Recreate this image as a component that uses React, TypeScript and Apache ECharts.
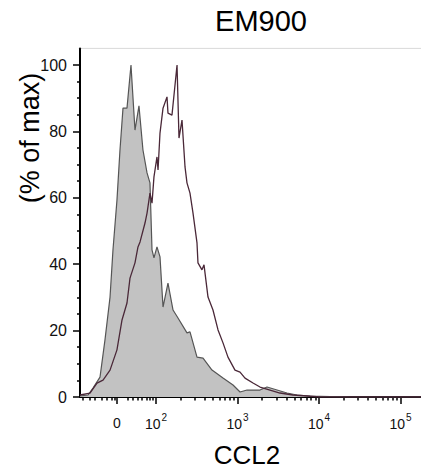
import React, { useEffect, useRef } from "react";
import * as echarts from "echarts";

// x positions are in display-decade units of the biexponential CCL2 axis (2 = 10^2, 3 = 10^3 ...)
const controlX = [1.0675, 1.166, 1.227, 1.313, 1.374, 1.436, 1.472, 1.521, 1.558, 1.595, 1.644, 1.693, 1.742, 1.791, 1.84, 1.89, 1.926, 1.951, 1.975, 2.012, 2.049, 2.086, 2.147, 2.209, 2.27, 2.38, 2.417, 2.503, 2.577, 2.687, 2.822, 2.945, 3.031, 3.117, 3.276, 3.362, 3.485, 3.607, 3.73, 3.89, 4.38, 5.509];
const controlY = [0.3, 0.6, 2.7, 6.0, 17.2, 30.1, 44.3, 59.3, 74.4, 87.0, 87.0, 100, 80.4, 87.7, 74.4, 67.5, 64.5, 44.3, 41.9, 45.2, 42.2, 27.1, 34.3, 26.2, 23.8, 19.3, 19.6, 12.0, 11.7, 8.1, 5.7, 3.6, 1.5, 2.1, 2.1, 3.0, 2.1, 1.2, 0.6, 0.3, 0, 0];

const em900X = [1.0675, 1.19, 1.276, 1.35, 1.436, 1.521, 1.583, 1.644, 1.681, 1.742, 1.779, 1.804, 1.865, 1.89, 1.926, 1.951, 1.975, 2.012, 2.025, 2.049, 2.086, 2.135, 2.147, 2.196, 2.258, 2.282, 2.319, 2.356, 2.38, 2.417, 2.454, 2.503, 2.515, 2.564, 2.589, 2.638, 2.699, 2.761, 2.822, 2.883, 2.969, 3.031, 3.092, 3.19, 3.276, 3.399, 3.521, 3.681, 3.853, 4.012, 5.509];
const em900Y = [0.6, 1.2, 4.2, 5.1, 8.1, 14.2, 23.2, 28.3, 35.8, 40.4, 45.2, 46.7, 52.4, 55.4, 61.4, 58.4, 66.3, 72.3, 68.4, 79.5, 87.0, 90.4, 85.5, 84.9, 100, 78.0, 83.4, 69.3, 64.5, 61.4, 55.4, 46.4, 40.4, 38.3, 39.8, 30.1, 26.2, 20.2, 16.3, 12.0, 8.1, 7.5, 5.7, 4.2, 3.0, 2.1, 1.2, 0.6, 0.3, 0, 0];

const xMajorTicks = [1.521, 2, 3, 4, 5];
const xMajorLabels = ["0", "10^2", "10^3", "10^4", "10^5"];
const xNearZeroTicks = [1.104, 1.19, 1.252, 1.337, 1.399, 1.46, 1.497, 1.656, 1.718, 1.779, 1.828, 1.89, 1.926, 1.963];
const decades = [2, 3, 4, 5];
const multipliers = [2, 3, 4, 5, 6, 7, 8, 9];
const yMajorTicks = [0, 20, 40, 60, 80, 100];
const yMinorTicks = [5, 10, 15, 25, 30, 35, 45, 50, 55, 65, 70, 75, 85, 90, 95];

const FONT = "'Liberation Sans', Arial, Helvetica, sans-serif";
const X_MIN = 1.0675;
const X_MAX = 5.509;

export default function App() {
  const ref = useRef<HTMLDivElement>(null);
  useEffect(() => {
    if (!ref.current) return;
    document.documentElement.style.overflow = "hidden";
    document.body.style.overflow = "hidden";
    const chart = echarts.init(ref.current, null, { renderer: "svg" });
    const xMinorTicks = xNearZeroTicks.concat(
      ...decades.map((d) => multipliers.map((m) => d + Math.log10(m)))
    );
    const control = controlX.map((x, i) => [x, controlY[i]]);
    const em900 = em900X.map((x, i) => [x, em900Y[i]]);
    const labelMap: Record<string, string> = {};
    xMajorTicks.forEach((v, i) => (labelMap[String(v)] = xMajorLabels[i]));

    chart.setOption({
      animation: false,
      grid: {
        left: 80,
        right: 0,
        top: 48.4,
        bottom: 79,
        show: true,
        borderColor: "#d9d9d9",
        borderWidth: 1,
        backgroundColor: "transparent",
      },
      xAxis: [
        {
          type: "value",
          min: X_MIN,
          max: X_MAX,
          splitLine: { show: false },
          axisLine: { show: true, onZero: false, lineStyle: { color: "#000", width: 2 } },
          axisTick: {
            show: true,
            customValues: xMajorTicks,
            length: 7,
            lineStyle: { color: "#000", width: 1.5 },
          },
          axisLabel: {
            customValues: xMajorTicks,
            margin: 15,
            color: "#111",
            fontFamily: FONT,
            fontSize: 14,
            formatter: (v: number) => {
              const key = Object.keys(labelMap).find((k) => Math.abs(Number(k) - v) < 1e-6);
              const s = key ? labelMap[key] : "";
              if (s.indexOf("^") >= 0) {
                const [b, e] = s.split("^");
                return `{b|${b}}{sup|${e}}`;
              }
              return `{b|${s}}`;
            },
            rich: {
              b: { fontSize: 14, fontFamily: FONT, color: "#111", padding: [4, 0, 0, 0] },
              sup: { fontSize: 10, fontFamily: FONT, color: "#111", padding: [0, 0, 10, 1] },
            },
          },
        },
        {
          type: "value",
          min: X_MIN,
          max: X_MAX,
          position: "bottom",
          splitLine: { show: false },
          axisLine: { show: false },
          axisTick: {
            show: true,
            customValues: xMinorTicks,
            length: 3.5,
            lineStyle: { color: "#000", width: 1.5 },
          },
          axisLabel: { show: false },
        },
      ],
      yAxis: [
        {
          type: "value",
          min: 0,
          max: 105,
          splitLine: { show: false },
          axisLine: { show: true, lineStyle: { color: "#000", width: 2 } },
          axisTick: {
            show: true,
            customValues: yMajorTicks,
            length: 7,
            lineStyle: { color: "#000", width: 1.5 },
          },
          axisLabel: {
            customValues: yMajorTicks,
            margin: 13,
            color: "#111",
            fontFamily: FONT,
            fontSize: 16,
          },
        },
        {
          type: "value",
          min: 0,
          max: 105,
          position: "left",
          offset: 0,
          splitLine: { show: false },
          axisLine: { show: false },
          axisTick: {
            show: true,
            customValues: yMinorTicks,
            length: 3,
            lineStyle: { color: "#000", width: 1.5 },
          },
          axisLabel: { show: false },
        },
      ],
      series: [
        {
          type: "line",
          data: control,
          showSymbol: false,
          symbol: "none",
          lineStyle: { color: "#555555", width: 1.2 },
          areaStyle: { color: "#c2c2c2", opacity: 1 },
          z: 2,
        },
        {
          type: "line",
          data: em900,
          showSymbol: false,
          symbol: "none",
          lineStyle: { color: "#4a2838", width: 1.3 },
          z: 3,
        },
      ],
      graphic: [
        {
          type: "text",
          x: 261,
          y: 21,
          style: {
            text: "EM900",
            font: `29px ${FONT}`,
            fill: "#000",
            textAlign: "center",
            textVerticalAlign: "middle",
          },
        },
        {
          type: "text",
          x: 247,
          y: 455,
          style: {
            text: "CCL2",
            font: `26px ${FONT}`,
            fill: "#000",
            textAlign: "center",
            textVerticalAlign: "middle",
          },
        },
        {
          type: "text",
          x: 30,
          y: 138,
          rotation: Math.PI / 2,
          style: {
            text: "(% of max)",
            font: `27px ${FONT}`,
            fill: "#000",
            textAlign: "center",
            textVerticalAlign: "middle",
          },
        },
      ],
    });
    return () => chart.dispose();
  }, []);
  return (
    <div
      ref={ref}
      style={{ position: "fixed", left: 0, top: 0, width: 442, height: 476, background: "#fff" }}
    />
  );
}
